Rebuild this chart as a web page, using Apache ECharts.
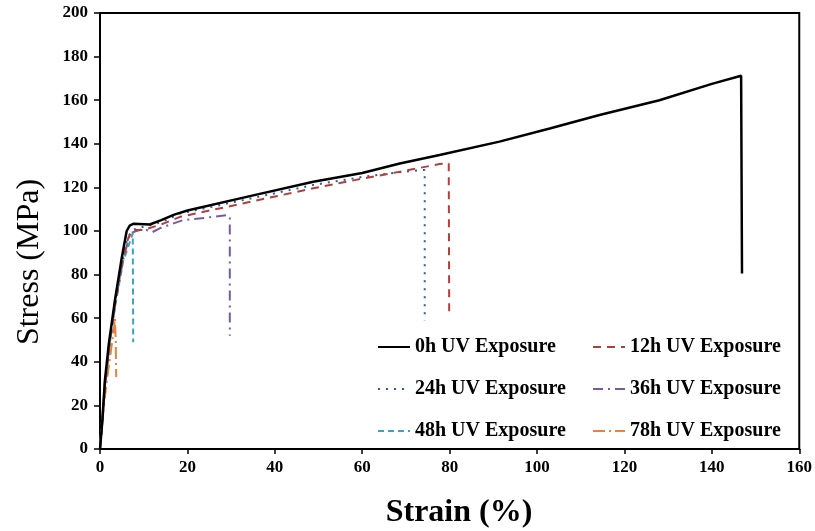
<!DOCTYPE html>
<html><head><meta charset="utf-8">
<script src="https://cdn.jsdelivr.net/npm/echarts@6/dist/echarts.min.js"></script>
<style>html,body{margin:0;padding:0;background:#fff}#c{width:815px;height:531px}</style>
</head><body><div id="c"></div>
<script>
const xTicks = [0,20,40,60,80,100,120,140,160];
const yTicks = [0,20,40,60,80,100,120,140,160,180,200];
const names = ['0h UV Exposure','12h UV Exposure','24h UV Exposure','36h UV Exposure','48h UV Exposure','78h UV Exposure'];
const s0h = [[0,0],[0.5,12],[1.1,31],[2,48],[3.4,68],[5,88],[6.1,100],[6.8,102.5],[7.6,103.3],[11.4,103],[14,105],[17,107.5],[20,109.4],[34.3,116],[48.8,122.6],[60,126.6],[68.6,131],[77.7,134.9],[91.4,141],[102.9,147],[114.3,153.2],[128,160],[140,167.5],[146.7,171.2],[146.9,80.5]];
const s12h = [[0,0],[0.6,13],[1.2,30],[2.2,48],[3.5,67],[5.2,87],[6.5,97],[7.5,100.5],[10,100.5],[14,103],[18.3,106.5],[30,111.5],[48.8,119.6],[60,124],[68.6,127.2],[77.7,130.7],[79.8,131],[79.9,63]];
const s24h = [[0,0],[0.5,12],[1.1,30],[2.1,48],[3.3,66],[5,86],[6.3,97],[7.5,100.5],[10,102],[14,104],[18.3,108],[30,113],[48.8,121.1],[60,124.8],[70,127.3],[74.3,128],[74.3,59]];
const s36h = [[0,0],[0.6,14],[1.3,32],[2.3,50],[3.6,68],[5.2,86],[6.9,99],[9.9,101],[12,99.5],[14,101.5],[19,105],[24,106],[29,107.3],[29.7,106.5],[29.7,52]];
const s48h = [[0,2],[0.5,14],[1.2,30],[2.2,48],[3.5,66],[5.3,86],[7,96],[7.5,99],[7.6,49]];
const s78h = [[0,3],[0.4,10],[0.9,20],[1.6,32],[2.5,45],[3.2,55],[3.4,60],[3.6,50],[3.7,33]];

const styles = [
  {color:'#000000', width:2.5, type:'solid'},
  {color:'#b0403c', width:2, type:[8,6]},
  {color:'#2f5c9a', width:2, type:[2,6]},
  {color:'#7a5a9e', width:2, type:[10,5,2,5]},
  {color:'#3aa3bd', width:2, type:[6,4]},
  {color:'#e8843a', width:2, type:[12,4,2,4]}
];
const datasets = [s0h,s12h,s24h,s36h,s48h,s78h];
const chart = echarts.init(document.getElementById('c'));
const legendText = {fontFamily:'Liberation Serif', fontWeight:'bold', fontSize:20, color:'#000'};
const legendBase = {orient:'vertical', top:332, itemWidth:32, itemHeight:14, itemGap:22, textStyle:legendText, itemStyle:{opacity:0}};
chart.setOption({
  animation:false,
  grid:{left:100, right:15, top:13, bottom:82, show:true, borderColor:'#000', borderWidth:2},
  legend:[
    Object.assign({data:[names[0],names[2],names[4]], left:372}, legendBase),
    Object.assign({data:[names[1],names[3],names[5]], left:587}, legendBase)
  ],
  graphic:[
    {type:'text', x:30, y:262, rotation:Math.PI/2, z:100,
     style:{text:'Stress (MPa)', fontFamily:'Liberation Serif', fontSize:32, fill:'#000', textAlign:'center', textVerticalAlign:'middle'}},
    {type:'text', x:459, y:513, z:100,
     style:{text:'Strain (%)', fontFamily:'Liberation Serif', fontWeight:'bold', fontSize:32, fill:'#000', textAlign:'center', textVerticalAlign:'middle'}}
  ],
  xAxis:{type:'value', min:0, max:160, interval:20,
    axisLine:{lineStyle:{color:'#000', width:2}},
    axisTick:{length:5, lineStyle:{color:'#000', width:1.5}},
    axisLabel:{fontFamily:'Liberation Serif', fontWeight:'bold', fontSize:17, color:'#000', margin:10},
    splitLine:{show:false}},
  yAxis:{type:'value', min:0, max:200, interval:20,
    axisLine:{lineStyle:{color:'#000', width:2}},
    axisTick:{length:6, lineStyle:{color:'#000', width:1.5}},
    axisLabel:{fontFamily:'Liberation Serif', fontWeight:'bold', fontSize:17, color:'#000', margin:12},
    splitLine:{show:false}},
  series: datasets.map((d,i)=>({
    name:names[i], type:'line', data:d, symbol:'none', z: 10-i,
    lineStyle:{color:styles[i].color, width:styles[i].width, type:styles[i].type},
    itemStyle:{color:styles[i].color}
  }))
});
</script></body></html>
